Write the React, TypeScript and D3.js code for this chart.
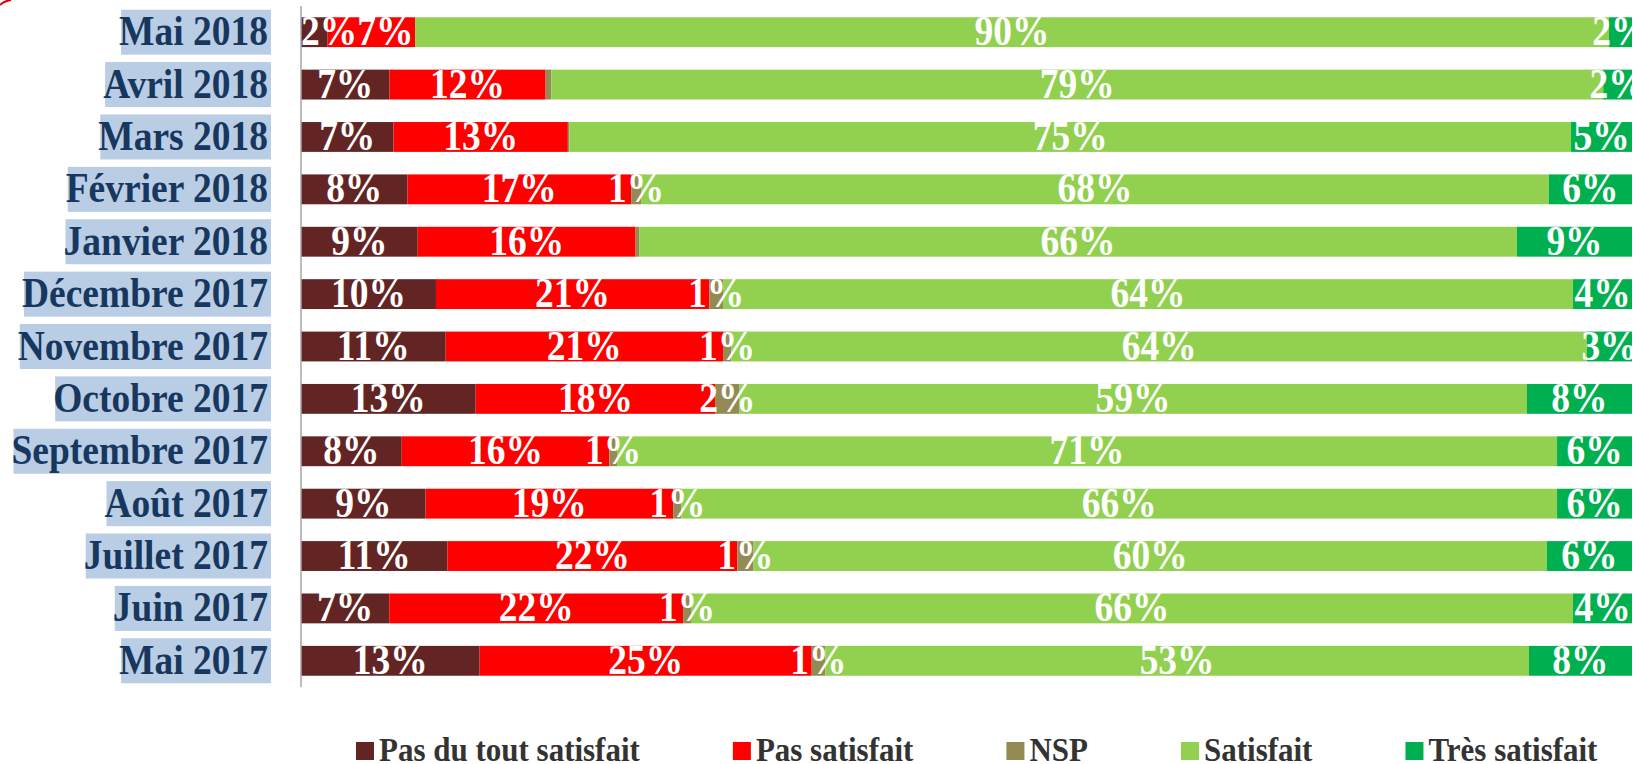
import { FC, useEffect, useRef } from "react";
import * as d3 from "d3";

const categories = [
    "Mai 2018",
    "Avril 2018",
    "Mars 2018",
    "Février 2018",
    "Janvier 2018",
    "Décembre 2017",
    "Novembre 2017",
    "Octobre 2017",
    "Septembre 2017",
    "Août 2017",
    "Juillet 2017",
    "Juin 2017",
    "Mai 2017",
];

const pasDuTout = [2.0, 6.65, 6.95, 8.0, 8.77, 10.14, 10.87, 13.12, 7.57, 9.36, 11.0, 6.63, 13.42];
const pasSatisfait = [6.57, 11.73, 13.1, 16.8, 16.37, 20.53, 20.84, 18.03, 15.59, 18.6, 21.79, 22.08, 24.95];
const nsp = [0, 0.43, 0.11, 0.75, 0.27, 1.04, 0.62, 1.77, 0.59, 0.62, 1.21, 0.59, 1.02];
const satisfait = [89.7, 79.03, 75.26, 68.19, 65.95, 63.86, 64.29, 59.19, 70.62, 65.79, 59.61, 66.27, 52.87];
const tresSatisfait = [1.73, 2.16, 4.58, 6.24, 8.64, 4.43, 3.38, 7.89, 5.63, 5.63, 6.39, 4.43, 7.74];

const seriesNames = ["Pas du tout satisfait", "Pas satisfait", "NSP", "Satisfait", "Très satisfait"];
const seriesValues = [pasDuTout, pasSatisfait, nsp, satisfait, tresSatisfait];
const seriesColors = ["#632523", "#ff0000", "#948a54", "#92d050", "#00b050"];

type Row = { category: string } & Record<string, number | string>;

const width = 1634;
const height = 764;
const marginLeft = 301;
const marginRight = 2;
const plotTop = 6;
const plotBottom = 687;
const font = "'Liberation Serif', 'Times New Roman', serif";
// the source text is a bit taller than it is wide
const stretch = "scale(1,1.1)";

const App: FC = () => {
    const svgRef = useRef<SVGSVGElement>(null);

    useEffect(() => {
        if (!svgRef.current) return;
        const svg = d3.select(svgRef.current);

        const rows: Row[] = categories.map((c, i) => {
            const r: Row = { category: c } as Row;
            seriesNames.forEach((s, k) => (r[s] = seriesValues[k][i]));
            return r;
        });

        const stacked = d3
            .stack<Row>()
            .keys(seriesNames)
            .value((d, key) => d[key] as number)
            .offset(d3.stackOffsetExpand)(rows);

        const x = d3.scaleLinear([0, 1], [marginLeft, width - marginRight]);
        const y = d3
            .scaleBand(categories, [plotTop, plotBottom])
            .paddingInner(0.43)
            .paddingOuter(0.215);
        const yMid = (c: string) => y(c)! + y.bandwidth() / 2;

        // small red arc left over in the corner of the source image
        svg.append("path")
            .attr("d", "M0,5 Q4,1 11,0")
            .attr("fill", "none")
            .attr("stroke", "#e00000")
            .attr("stroke-width", 2);

        // category labels with their light blue highlight
        const labels = svg
            .append("g")
            .selectAll("g")
            .data(categories)
            .join("g");

        const labelRects = labels
            .append("rect")
            .attr("fill", "#b9cde5")
            .attr("y", (d) => yMid(d) - 22.5)
            .attr("height", 45);

        const labelTexts = labels
            .append("text")
            .attr("transform", (d) => `translate(268,${yMid(d) + 13}) ${stretch}`)
            .attr("text-anchor", "end")
            .attr("font-family", font)
            .attr("font-weight", "bold")
            .attr("font-size", 37.5)
            .attr("fill", "#17375e")
            .text((d) => d);

        labelTexts.each(function (_, i) {
            const w = (this as SVGTextElement).getComputedTextLength();
            const left = 268 - w + 2;
            d3.select(labelRects.nodes()[i]).attr("x", left).attr("width", 271 - left);
        });

        // bars
        const layers = svg
            .append("g")
            .selectAll("g")
            .data(stacked)
            .join("g")
            .attr("fill", (_, i) => seriesColors[i]);

        layers
            .selectAll("rect")
            .data((d) => d)
            .join("rect")
            .attr("x", (d) => x(d[0]))
            .attr("y", (d) => y(d.data.category)!)
            .attr("width", (d) => x(d[1]) - x(d[0]))
            .attr("height", y.bandwidth());

        // value labels, on top of every bar
        const valueLabels = stacked.flatMap((s) =>
            s
                .filter((p) => Math.round(p.data[s.key] as number) >= 1)
                .map((p) => ({
                    category: p.data.category,
                    mid: (x(p[0]) + x(p[1])) / 2,
                    v: Math.round(p.data[s.key] as number),
                }))
        );

        const valueTexts = svg
            .append("g")
            .selectAll("text")
            .data(valueLabels)
            .join("text")
            .attr("font-family", font)
            .attr("font-weight", "bold")
            .attr("font-size", 37.5)
            .attr("fill", "#ffffff")
            .text((d) => `${d.v}%`);

        // keep labels off the axis and from running into each other, as the source does
        const widths = valueTexts.nodes().map((n) => n.getComputedTextLength());
        const lefts = new Array<number>(valueLabels.length);
        categories.forEach((c) => {
            let prevRight = marginLeft;
            valueLabels
                .map((d, i) => ({ d, i }))
                .filter(({ d }) => d.category === c)
                .sort((a, b) => a.d.mid - b.d.mid)
                .forEach(({ d, i }) => {
                    const left = Math.max(d.mid - widths[i] / 2, prevRight);
                    lefts[i] = left;
                    prevRight = left + widths[i];
                });
        });
        valueTexts.attr(
            "transform",
            (d, i) => `translate(${lefts[i]},${yMid(d.category) + 13}) ${stretch}`
        );

        // vertical axis line
        svg.append("line")
            .attr("x1", marginLeft)
            .attr("x2", marginLeft)
            .attr("y1", plotTop)
            .attr("y2", plotBottom)
            .attr("stroke", "#a6a6a6")
            .attr("stroke-width", 1.5);

        // legend
        const legend = svg.append("g");
        let lx = 356;
        seriesNames.forEach((name, i) => {
            legend
                .append("rect")
                .attr("x", lx)
                .attr("y", 742)
                .attr("width", 18)
                .attr("height", 18)
                .attr("fill", seriesColors[i]);
            const t = legend
                .append("text")
                .attr("transform", `translate(${lx + 23},761) ${stretch}`)
                .attr("font-family", font)
                .attr("font-weight", "bold")
                .attr("font-size", 31)
                .attr("fill", "#333333")
                .text(name);
            lx += 23 + (t.node() as SVGTextElement).getComputedTextLength() + 93;
        });

        return () => {
            svg.selectAll("*").remove();
        };
    }, []);

    return (
        <svg
            ref={svgRef}
            width={width}
            height={height}
            style={{ position: "absolute", left: 0, top: 0, background: "#ffffff" }}
        />
    );
};

export default App;
